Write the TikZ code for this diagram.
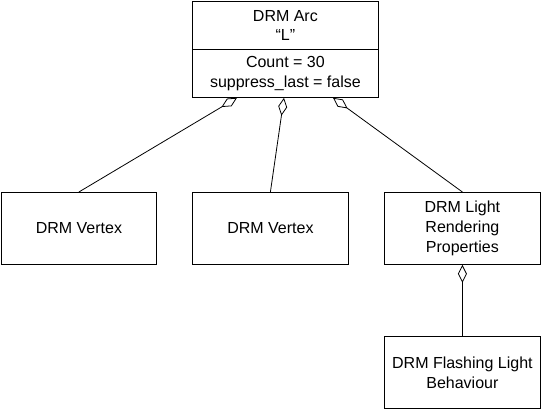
\documentclass[tikz,border=0pt]{standalone}
\usepackage{fontspec}
\setmainfont{Liberation Sans}
\usetikzlibrary{arrows.meta}
\begin{document}
\begin{tikzpicture}[x=1pt,y=-1pt,
  box/.style={draw, line width=0.8pt, minimum width=156pt, minimum height=72pt, inner sep=0pt, align=center, anchor=north west, font=\fontsize{16}{20}\selectfont},
  agg/.style={{Diamond[open,length=18pt,width=9pt]}-, line width=0.8pt}]
\useasboundingbox (0,0) rectangle (541,409);
\node[box, minimum width=186pt, minimum height=48pt, font=\fontsize{16}{18.5}\selectfont] (arc) at (192,1) {DRM Arc\\“L”};
\node[box, minimum width=186pt, minimum height=48pt, font=\fontsize{16}{19.5}\selectfont] (arcattr) at (192,49) {Count = 30\\suppress\_last = false};
\node[box, minimum width=155pt] (v1) at (1,192) {DRM Vertex};
\node[box] (v2) at (192,192) {DRM Vertex};
\node[box] (light) at (384,192) {DRM Light\\Rendering\\Properties};
\node[box] (flash) at (384,336) {DRM Flashing Light\\Behaviour};
\path (arcattr.south west) ++(45,0) coordinate (a1);
\path (arcattr.south west) ++(92,0) coordinate (a2);
\path (arcattr.south west) ++(141,0) coordinate (a3);
\draw[agg] (a1) -- (v1.north);
\draw[agg] (a2) -- (v2.north);
\draw[agg] (a3) -- (light.north);
\draw[agg] (light.south) -- (flash.north);
\end{tikzpicture}
\end{document}
